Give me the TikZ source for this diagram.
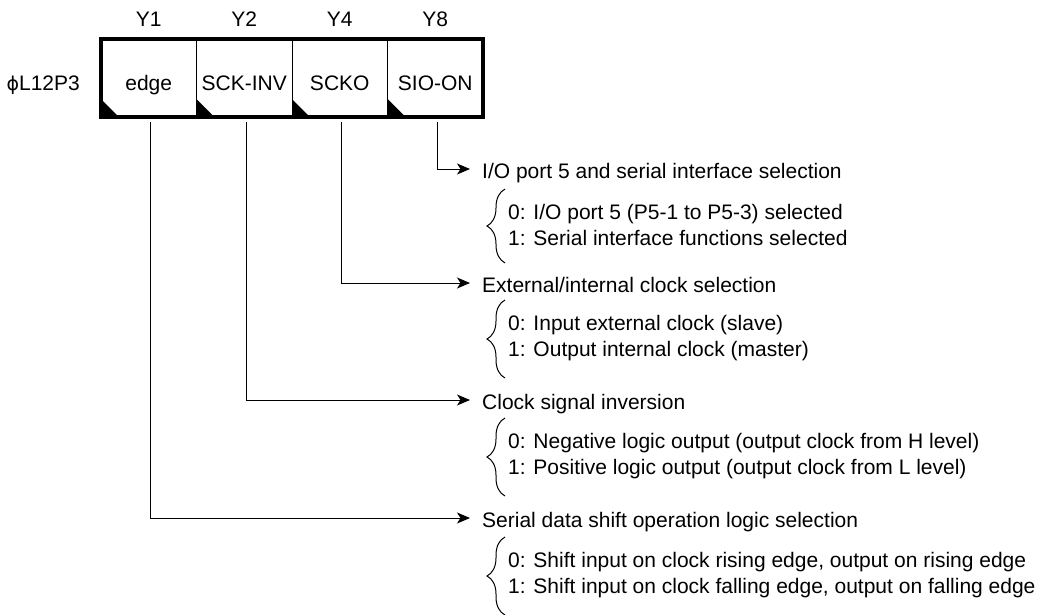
\documentclass[tikz,border=0pt]{standalone}
\usepackage{fontspec}
\setmainfont{Liberation Sans}
\newfontfamily\phifont{DejaVu Sans}
\usetikzlibrary{positioning,arrows.meta,decorations.pathreplacing}

\begin{document}
\begin{tikzpicture}[x=1pt,y=-1pt,>={Stealth[length=13pt,width=11pt,inset=3.5pt]},
  font=\fontsize{21}{26}\selectfont,
  cell/.style={draw,line width=1pt,minimum width=95.5pt,minimum height=78pt,
    inner sep=0pt,outer sep=0pt,text height=24pt,text depth=0pt},
  bit/.style={inner sep=0pt,text depth=0pt},
  head/.style={anchor=west,inner sep=0pt,text height=18pt,text depth=0pt},
  opts/.style={anchor=west,inner sep=0pt,align=left},
  conn/.style={->,line width=1pt,shorten >=12pt},
  brc/.style={decorate,decoration={brace,amplitude=18pt},line width=1pt}]
\useasboundingbox (0,0) rectangle (1043,614);

% register cells
\node[cell] (c1) at (148.75,78) {edge};
\node[cell,right=0pt of c1] (c2) {SCK-INV};
\node[cell,right=0pt of c2] (c3) {SCKO};
\node[cell,right=0pt of c3] (c4) {SIO-ON};
\draw[line width=4pt] (c1.north west) rectangle (c4.south east);
\foreach \c in {c1,c2,c3,c4}
  \fill (\c.south west) -- ++(0,-18) -- ++(18,18) -- cycle;

\node[bit,text height=24pt,left=21pt of c1] (reg) {{\phifont\fontsize{19}{26}\selectfont ϕ}L12P3};
\node[bit,above=12pt of c1] (b1) {Y1};
\node[bit,above=12pt of c2] (b2) {Y2};
\node[bit,above=12pt of c3] (b3) {Y4};
\node[bit,above=12pt of c4] (b4) {Y8};

% bit descriptions
\node[head] (h4) at (482,169) {I/O port 5 and serial interface selection};
\node[opts] (o4) at (508,225) {0: I/O port 5 (P5-1 to P5-3) selected\\1: Serial interface functions selected};
\node[head] (h3) at (482,283) {External/internal clock selection};
\node[opts] (o3) at (508,338) {0: Input external clock (slave)\\1: Output internal clock (master)};
\node[head] (h2) at (482,400) {Clock signal inversion};
\node[opts] (o2) at (508,456) {0: Negative logic output (output clock from H level)\\1: Positive logic output (output clock from L level)};
\node[head] (h1) at (482,518) {Serial data shift operation logic selection};
\node[opts] (o1) at (508,575) {0: Shift input on clock rising edge, output on rising edge\\1: Shift input on clock falling edge, output on falling edge};

\foreach \i in {1,2,3,4} {
  \draw[conn] ([xshift=2pt,yshift=-5pt]c\i.south) |- (h\i.west);
  \draw[brc] ([xshift=-3pt,yshift=-17pt]o\i.south west) -- ([xshift=-3pt,yshift=15pt]o\i.north west);
}
\end{tikzpicture}
\end{document}
